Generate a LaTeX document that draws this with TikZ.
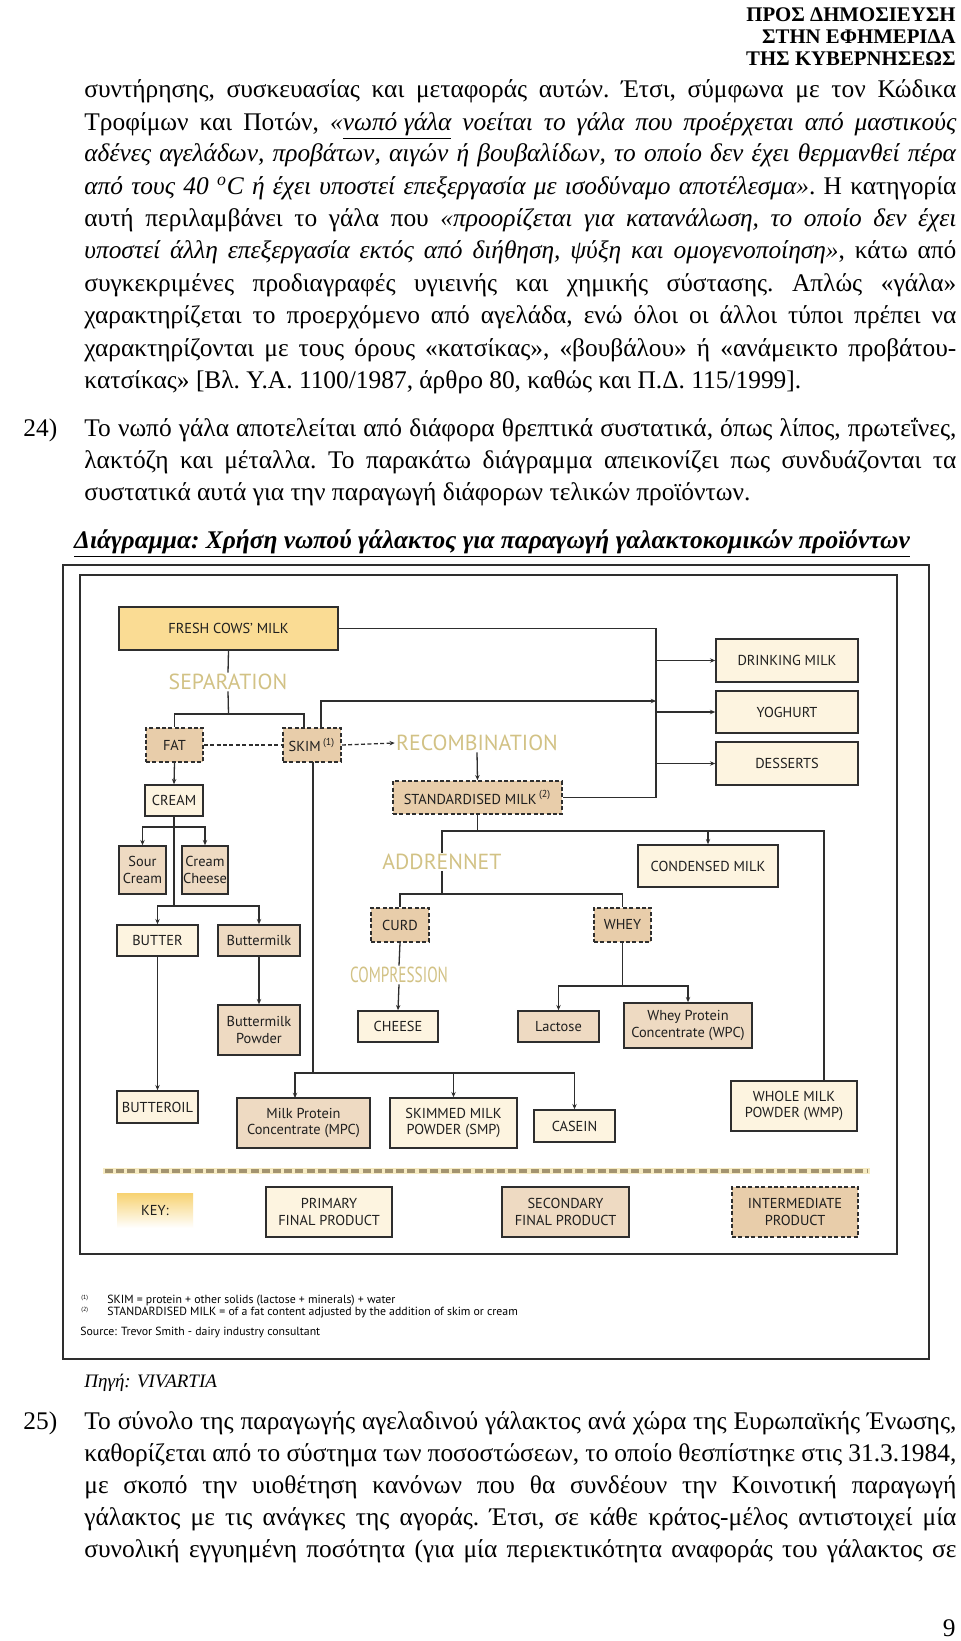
\documentclass[tikz,border=0pt]{standalone}
\usepackage{fontspec}
\setmainfont{Liberation Serif}
\newfontfamily\dfont{PT Sans}
\usetikzlibrary{calc,arrows.meta}
\definecolor{goldc}{HTML}{FADC94}
\definecolor{creamc}{HTML}{FDF4E0}
\definecolor{tanc}{HTML}{EEDAC2}
\definecolor{tani}{HTML}{E8CDAA}
\definecolor{labc}{HTML}{D2C285}
\definecolor{lnc}{HTML}{2E2E2E}
\definecolor{sepc}{HTML}{A39470}
\definecolor{halo}{HTML}{F6EBC2}
\definecolor{keyc}{HTML}{F7D271}
\newcommand\bodyfont{\fontsize{12.7}{15}\selectfont\frenchspacing}
\newcommand\jline[3]{\node[jl] (#1) at (84,#2) {\makebox[436pt][s]{#3}};}
\newcommand\pline[3]{\node[jl] (#1) at (84,#2) {#3};}
\begin{document}
\begin{tikzpicture}[x=0.5pt,y=-0.5pt,
  sz/.style 2 args={minimum width={#1*0.5pt}, minimum height={#2*0.5pt}},
  bx/.style={draw=lnc, line width=0.8pt, inner sep=0pt, align=center, text=black!88,
    font=\dfont\fontsize{7.2}{8.3}\selectfont},
  prim/.style={bx, fill=creamc},
  secd/.style={bx, fill=tanc},
  inter/.style={bx, fill=tani, dash pattern=on 2pt off 1.2pt},
  lbl/.style={text=labc, font=\dfont\fontsize{10.9}{12}\selectfont, inner sep=0.5pt},
  cn/.style={draw=lnc, line width=0.65pt},
  arr/.style={cn, -{Stealth[length=2.6pt,width=2.2pt]}},
  jl/.style={anchor=base west, inner sep=0pt, font=\bodyfont},
  hd/.style={anchor=base east, inner sep=0pt, font=\bfseries\fontsize{10.4}{11}\selectfont},
  fnt/.style={anchor=west, inner sep=0pt, font=\dfont\fontsize{5.9}{7}\selectfont},
]
\useasboundingbox (0,0) rectangle (960,1641);
\fill[white] (0,0) rectangle (960,1641);

% header
\node[hd] (h1) at (956,22) {ΠΡΟΣ ΔΗΜΟΣΙΕΥΣΗ};
\node[hd] (h2) at (956,44) {ΣΤΗΝ ΕΦΗΜΕΡΙΔΑ};
\node[hd] (h3) at (956,66) {ΤΗΣ ΚΥΒΕΡΝΗΣΕΩΣ};

% paragraph 1
\jline{l1}{98}{συντήρησης, συσκευασίας και μεταφοράς αυτών. Έτσι, σύμφωνα με τον Κώδικα}
\jline{l2}{130.5}{Τροφίμων και Ποτών, \textit{«\underline{νωπό γάλα} νοείται το γάλα που προέρχεται από μαστικούς}}
\jline{l3}{162}{\textit{αδένες αγελάδων, προβάτων, αιγών ή βουβαλίδων, το οποίο δεν έχει θερμανθεί πέρα}}
\jline{l4}{194.5}{\textit{από τους 40 \textsuperscript{o}C ή έχει υποστεί επεξεργασία με ισοδύναμο αποτέλεσμα»}. Η κατηγορία}
\jline{l5}{227}{αυτή περιλαμβάνει το γάλα που \textit{«προορίζεται για κατανάλωση, το οποίο δεν έχει}}
\jline{l6}{259}{\textit{υποστεί άλλη επεξεργασία εκτός από διήθηση, ψύξη και ομογενοποίηση»}, κάτω από}
\jline{l7}{291.5}{συγκεκριμένες προδιαγραφές υγιεινής και χημικής σύστασης. Απλώς «γάλα»}
\jline{l8}{324}{χαρακτηρίζεται το προερχόμενο από αγελάδα, ενώ όλοι οι άλλοι τύποι πρέπει να}
\jline{l9}{356.5}{χαρακτηρίζονται με τους όρους «κατσίκας», «βουβάλου» ή «ανάμεικτο προβάτου-}
\pline{l10}{389}{κατσίκας» [Βλ. Υ.Α. 1100/1987, άρθρο 80, καθώς και Π.Δ. 115/1999].}

% paragraph 24
\node[jl] (n24) at (23,436.5) {24)};
\jline{m1}{436.5}{Το νωπό γάλα αποτελείται από διάφορα θρεπτικά συστατικά, όπως λίπος, πρωτεΐνες,}
\jline{m2}{469}{λακτόζη και μέταλλα. Το παρακάτω διάγραμμα απεικονίζει πως συνδυάζονται τα}
\pline{m3}{500.5}{συστατικά αυτά για την παραγωγή διάφορων τελικών προϊόντων.}

% title
\node[anchor=base, inner sep=0pt, font=\bodyfont\bfseries\itshape] (title) at (492,548) {\underline{Διάγραμμα: Χρήση νωπού γάλακτος για παραγωγή γαλακτοκομικών προϊόντων}};

% frames
\draw[lnc, line width=0.75pt] (63,565) rectangle (929,1359);
\draw[lnc, line width=0.75pt] (80,575) rectangle (897,1254);

% boxes
\node[bx, fill=goldc, sz={219}{43}] (fresh) at (228.5,628.5) {FRESH COWS’ MILK};
\node[prim, sz={142}{43}] (drink) at (787,660.5) {DRINKING MILK};
\node[prim, sz={142}{42}] (yog) at (787,712) {YOGHURT};
\node[prim, sz={142}{43}] (dess) at (787,763.5) {DESSERTS};
\node[inter, sz={57}{34}] (fat) at (174.5,745) {FAT};
\node[inter, sz={58}{34}] (skim) at (312,745) {SKIM\,\textsuperscript{(1)}};
\node[inter, sz={169}{33}] (std) at (477.5,797.5) {STANDARDISED MILK\,\textsuperscript{(2)}};
\node[prim, sz={58}{31}] (cream) at (174,800.5) {CREAM};
\node[secd, sz={47}{48}] (sour) at (142.5,870) {Sour\\Cream};
\node[secd, sz={46}{48}] (ccheese) at (205,870) {Cream\\Cheese};
\node[prim, sz={81}{31}] (butter) at (157.5,940.5) {BUTTER};
\node[secd, sz={82}{31}] (bmilk) at (259,940.5) {Buttermilk};
\node[secd, sz={82}{50}] (bmpow) at (259,1030) {Buttermilk\\Powder};
\node[prim, sz={81}{32}] (butteroil) at (157.5,1107) {BUTTEROIL};
\node[prim, sz={140}{42}] (condensed) at (708,866) {CONDENSED MILK};
\node[inter, sz={58}{34}] (curd) at (400,925) {CURD};
\node[inter, sz={57}{34}] (whey) at (622.5,925) {WHEY};
\node[prim, sz={80}{31}] (cheese) at (398,1026.5) {CHEESE};
\node[secd, sz={81}{31}] (lactose) at (558.5,1026.5) {Lactose};
\node[secd, sz={128}{45}] (wpc) at (688,1025.5) {Whey Protein\\Concentrate (WPC)};
\node[secd, sz={133}{50}] (mpc) at (303.5,1123) {Milk Protein\\Concentrate (MPC)};
\node[prim, sz={127}{50}] (smp) at (453.5,1123) {SKIMMED MILK\\POWDER (SMP)};
\node[prim, sz={81}{32}] (casein) at (574.5,1126) {CASEIN};
\node[prim, sz={126}{50}] (wmp) at (794,1106) {WHOLE MILK\\POWDER (WMP)};

% process labels
\node[lbl] (sep) at (228,682) {SEPARATION};
\node[lbl] (recomb) at (477,743) {RECOMBINATION};
\node[lbl] (addr) at (442,862) {ADDRENNET};
\node[lbl] (comp) at (399,975) {\scalebox{0.7}[1]{COMPRESSION}};

% junction coordinates
\coordinate (v1) at (656,628.5);
\coordinate (v2) at (656,797.5);
\coordinate (vskim) at (656,701);
\coordinate (skimup) at (321,728);
\coordinate (skimin) at (304,728);
\coordinate (skimdn) at (313,762);
\coordinate (j1) at (228.5,714);
\coordinate (j2) at (174,827);
\coordinate (j3) at (174,906);
\coordinate (j4) at (313,1073);
\coordinate (mpcin) at (295,1098);
\coordinate (j5) at (477.5,831);
\coordinate (wmpin) at (824,1081);
\coordinate (j6) at (442,894);
\coordinate (j7) at (622.5,986);

% connectors
\draw[cn] (fresh.east) -- (v1) -- (v2) -- (std.east);
\draw[arr] (v1 |- drink.west) -- (drink.west);
\draw[arr] (v1 |- yog.west) -- (yog.west);
\draw[arr] (v1 |- dess.west) -- (dess.west);
\draw[arr] (skimup) |- (vskim);
\draw[cn] (fresh.south) -- (sep.north);
\draw[cn] (sep.south) -- (j1);
\draw[cn] (fat.north) |- (j1) -| (skimin);
\draw[cn, dash pattern=on 2pt off 1.2pt] (fat.east) -- (skim.west);
\draw[arr, dash pattern=on 2pt off 1.2pt] (skim.east) -- (recomb.west);
\draw[arr] (recomb.south) -- (std.north);
\draw[arr] (fat.south) -- (cream.north);
\draw[cn] (cream.south) -- (j2) -- (j3);
\draw[arr] (j2) -| (sour.north);
\draw[arr] (j2) -| (ccheese.north);
\draw[arr] (j3) -| (butter.north);
\draw[arr] (j3) -| (bmilk.north);
\draw[arr] (butter.south) -- (butteroil.north);
\draw[arr] (bmilk.south) -- (bmpow.north);
\draw[cn] (skimdn) -- (j4);
\draw[arr] (j4) -| (mpcin);
\draw[arr] (j4) -| (smp.north);
\draw[arr] (j4) -| (casein.north);
\draw[cn] (std.south) -- (j5);
\draw[cn] (j5) -| (addr.north);
\draw[arr] (j5) -| (condensed.north);
\draw[cn] (j5) -| (wmpin);
\draw[cn] (addr.south) -- (j6);
\draw[cn] (j6) -| (curd.north);
\draw[cn] (j6) -| (whey.north);
\draw[cn] (curd.south) -- (comp.north);
\draw[arr] (comp.south) -- (cheese.north);
\draw[cn] (whey.south) -- (j7);
\draw[arr] (j7) -| (lactose.north);
\draw[arr] (j7) -| (wpc.north);

% separator
\draw[halo, line width=3.4pt] (103,1171) -- (870,1171);
\draw[sepc, line width=2pt, dash pattern=on 4pt off 1.6pt] (105,1171) -- (868,1171);

% key
\node[inner sep=0pt, sz={76}{35}, top color=keyc, bottom color=white, font=\dfont\fontsize{7.2}{8}\selectfont, text=black!88] (key) at (155,1210.5) {KEY:};
\node[prim, sz={126}{50}] (kprim) at (329,1212) {PRIMARY\\FINAL PRODUCT};
\node[secd, sz={127}{50}] (ksec) at (565.5,1212) {SECONDARY\\FINAL PRODUCT};
\node[inter, sz={126}{50}] (kint) at (795,1212) {INTERMEDIATE\\PRODUCT};

% footnotes
\node[fnt, font=\dfont\fontsize{3}{4}\selectfont] (fm1) at (81,1298) {(1)};
\node[fnt] (fn1) at (107,1301) {SKIM = protein + other solids (lactose + minerals) + water};
\node[fnt, font=\dfont\fontsize{3}{4}\selectfont] (fm2) at (81,1310) {(2)};
\node[fnt] (fn2) at (107,1313) {STANDARDISED MILK = of a fat content adjusted by the addition of skim or cream};
\node[fnt] (fn3) at (80,1332) {Source: Trevor Smith - dairy industry consultant};

% source
\node[jl, font=\fontsize{9.5}{11}\selectfont\itshape] (src) at (84,1387) {Πηγή: VIVARTIA};

% paragraph 25
\node[jl] (n25) at (23,1429) {25)};
\jline{p1}{1429}{Το σύνολο της παραγωγής αγελαδινού γάλακτος ανά χώρα της Ευρωπαϊκής Ένωσης,}
\jline{p2}{1461}{καθορίζεται από το σύστημα των ποσοστώσεων, το οποίο θεσπίστηκε στις 31.3.1984,}
\jline{p3}{1493}{με σκοπό την υιοθέτηση κανόνων που θα συνδέουν την Κοινοτική παραγωγή}
\jline{p4}{1525}{γάλακτος με τις ανάγκες της αγοράς. Έτσι, σε κάθε κράτος-μέλος αντιστοιχεί μία}
\jline{p5}{1557}{συνολική εγγυημένη ποσότητα (για μία περιεκτικότητα αναφοράς του γάλακτος σε}

\node[anchor=base east, inner sep=0pt, font=\bodyfont] (pg) at (956,1636) {9};
\end{tikzpicture}
\end{document}
